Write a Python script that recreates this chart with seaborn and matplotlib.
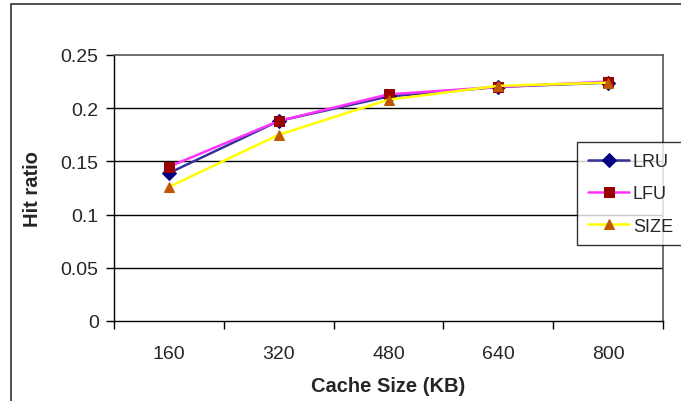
import matplotlib
matplotlib.use("Agg")
import matplotlib.pyplot as plt
import matplotlib.patches as mpatches
import seaborn as sns
import pandas as pd
import numpy as np

cache_sizes = ["160", "320", "480", "640", "800"]
lru = [0.139, 0.188, 0.211, 0.220, 0.224]
lfu = [0.145, 0.188, 0.213, 0.220, 0.225]
size = [0.126, 0.175, 0.208, 0.221, 0.224]
y_ticks = [0, 0.05, 0.1, 0.15, 0.2, 0.25]
y_tick_labels = ["0", "0.05", "0.1", "0.15", "0.2", "0.25"]

sns.set_theme(style="white")
plt.rcParams["font.family"] = ["Liberation Sans", "DejaVu Sans"]

df = pd.DataFrame({
    "Cache Size (KB)": cache_sizes * 3,
    "pos": list(range(len(cache_sizes))) * 3,
    "Hit ratio": lru + lfu + size,
    "Policy": ["LRU"] * 5 + ["LFU"] * 5 + ["SIZE"] * 5,
})

fig = plt.figure(figsize=(6.81, 4.02), dpi=100)
ax = fig.add_axes([114 / 681, 1 - 322 / 402, (663 - 114) / 681, (322 - 56) / 402])

styles = {
    "LRU": dict(line="#333399", marker="D", mfc="#000080", ms=7.5),
    "LFU": dict(line="#FF33FF", marker="s", mfc="#990000", ms=6.5),
    "SIZE": dict(line="#FFFF00", marker="^", mfc="#C05800", ms=7.5),
}

handles = []
for name in ["LRU", "LFU", "SIZE"]:
    st = styles[name]
    sub = df[df["Policy"] == name]
    sns.lineplot(data=sub, x="pos", y="Hit ratio", ax=ax, color=st["line"],
                 linewidth=1.8, legend=False)
    line = ax.lines[-1]
    line.set_marker(st["marker"])
    line.set_markerfacecolor(st["mfc"])
    line.set_markeredgecolor(st["mfc"])
    line.set_markersize(st["ms"])
    line.set_zorder(3)
    handles.append(line)

ax.set_xlim(-0.5, len(cache_sizes) - 0.5)
ax.set_ylim(0, 0.25)
ax.set_yticks(y_ticks)
ax.set_yticklabels(y_tick_labels, fontsize=14)
for yv in y_ticks[1:-1]:
    ax.axhline(yv, color="#000000", linewidth=1.0, zorder=1)

# x: tick marks at category boundaries, labels at centers
ax.set_xticks(np.arange(-0.5, len(cache_sizes), 1.0))
ax.set_xticklabels([])
ax.set_xticks(np.arange(len(cache_sizes)), minor=True)
ax.set_xticklabels(cache_sizes, minor=True, fontsize=14)
ax.tick_params(axis="x", which="major", direction="out", length=6, width=1, color="black", bottom=True)
ax.tick_params(axis="x", which="minor", length=0, pad=17.5)
ax.tick_params(axis="y", direction="out", length=6, width=1, color="black", left=True, pad=5)

ax.set_xlabel("Cache Size (KB)", fontsize=14.5, fontweight="bold", labelpad=10)
ax.set_ylabel("Hit ratio", fontsize=14.5, fontweight="bold", labelpad=13.5)

for s in ["left", "bottom"]:
    ax.spines[s].set_color("black")
    ax.spines[s].set_linewidth(1.0)
for s in ["top", "right"]:
    ax.spines[s].set_color("#555555")
    ax.spines[s].set_linewidth(1.2)
    ax.spines[s].set_visible(True)

leg = fig.legend(handles, ["LRU", "LFU", "SIZE"], loc="upper left",
                 bbox_to_anchor=(577 / 681, 1 - 143 / 402), fontsize=13,
                 frameon=True, fancybox=False, borderpad=0.6, labelspacing=0.85,
                 handlelength=2.3, handletextpad=0.2, borderaxespad=0)
leg.get_frame().set_edgecolor("black")
leg.get_frame().set_linewidth(1.0)

# outer chart border
fig.patches.append(mpatches.Rectangle((11 / 681, -0.05), 1.0, 1 - 5 / 402 + 0.05,
                                      transform=fig.transFigure, fill=False,
                                      edgecolor="#333333", linewidth=1.2))

fig.savefig("out.png", dpi=100)
